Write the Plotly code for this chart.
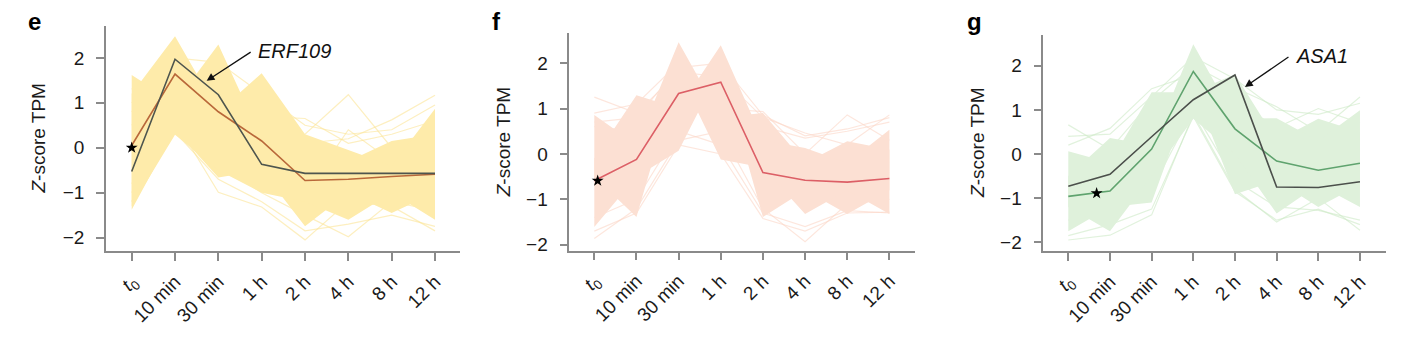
import plotly.graph_objects as go

# ---------------- data ----------------
times = ["<i>t</i><sub>0</sub>", "10 min", "30 min", "1 h", "2 h", "4 h", "8 h", "12 h"]
xi = list(range(len(times)))

# panel e (yellow cluster)
e_mean = [0.05, 1.64, 0.80, 0.15, -0.73, -0.70, -0.64, -0.59]
e_erf109 = [-0.53, 1.97, 1.18, -0.37, -0.57, -0.57, -0.57, -0.57]
e_hi_1 = [1.62, 1.00, 2.30, 0.20, 0.20, -0.30, 0.15, 0.30]
e_hi_2 = [1.20, 2.48, 0.80, 1.66, 0.30, -0.05, -0.40, 0.87]
e_lo_1 = [-1.38, 0.40, -0.66, -0.50, -1.75, -1.00, -1.45, -1.00]
e_lo_2 = [-1.30, 0.29, -0.50, -1.00, -1.20, -1.60, -1.00, -1.60]
e_out_1 = [0.80, 1.60, 1.20, 0.70, 0.65, 0.10, 0.30, 0.60]
e_out_2 = [0.50, 1.40, 0.90, 0.30, 0.30, 1.18, 0.00, 0.20]
e_out_3 = [1.00, 1.80, 1.30, 0.50, 0.10, 0.20, 0.62, 1.17]
e_out_4 = [-1.20, 0.60, -0.99, -1.32, -2.05, -1.20, -1.30, -1.85]
e_out_5 = [-0.80, 0.50, -0.40, -1.00, -1.50, -1.98, -1.20, -1.40]
e_out_6 = [-0.50, 0.80, 0.00, -0.60, -1.00, 0.40, -0.30, -0.30]
e_out_7 = [-1.00, 0.35, -0.70, -1.20, -1.85, -1.70, -1.50, -1.75]
e_out_8 = [1.30, 2.00, 1.90, 1.20, 0.50, 0.30, 0.40, 0.95]
e_star = [0.0, 0.0]

# panel f (peach cluster)
f_mean = [-0.59, -0.12, 1.33, 1.58, -0.41, -0.58, -0.62, -0.54]
f_hi_1 = [0.86, 0.20, 2.46, 0.80, 0.90, -0.20, 0.28, 0.10]
f_hi_2 = [-0.10, 1.29, 1.00, 2.39, 0.30, 0.13, -0.20, 0.53]
f_lo_1 = [-1.61, -0.50, 0.07, 1.90, -1.39, -0.80, -1.32, -0.80]
f_lo_2 = [-0.50, -1.39, 1.80, -0.12, -0.30, -1.32, -0.80, -1.32]
f_out_1 = [1.25, 0.90, 1.80, 1.70, 0.80, 0.46, 0.20, 0.86]
f_out_2 = [-1.86, -1.20, 0.30, 0.50, -1.20, -1.93, -1.10, -1.00]
f_out_3 = [0.60, 0.50, 1.50, 1.00, 0.93, 0.00, 0.86, 0.30]
f_out_4 = [-1.40, -1.00, 0.50, 0.20, -1.30, -1.60, -1.25, -1.30]
f_out_5 = [0.90, 1.10, 2.00, 1.20, 0.60, 0.35, 0.50, 0.70]
f_out_6 = [-1.70, -1.30, 0.20, 0.00, -1.42, -1.70, -1.30, -1.28]
f_out_7 = [0.70, 0.80, 1.90, 2.00, 0.85, 0.40, 0.55, 0.80]
f_star = [0.08, -0.59]

# panel g (green cluster)
g_mean = [-0.96, -0.84, 0.11, 1.87, 0.57, -0.16, -0.37, -0.21]
g_asa1 = [-0.73, -0.46, 0.39, 1.23, 1.79, -0.75, -0.76, -0.63]
g_hi_1 = [0.06, -0.20, 1.40, 1.40, 1.81, 0.30, 0.80, 0.50]
g_hi_2 = [-0.50, 0.36, 0.20, 2.49, 0.80, 0.81, 0.30, 0.99]
g_lo_1 = [-1.75, -1.20, -1.10, 1.50, -0.91, -0.60, -1.20, -0.70]
g_lo_2 = [-1.20, -1.75, -0.50, 0.80, 0.00, -1.35, -0.70, -1.20]
g_out_1 = [0.66, 0.10, 1.20, 2.00, 1.50, 1.07, 0.50, 1.29]
g_out_2 = [-1.95, -1.84, -1.38, 0.90, -0.80, -1.54, -1.00, -1.73]
g_out_3 = [0.20, 0.58, 1.48, 1.80, 1.20, 0.60, 1.03, 0.70]
g_out_4 = [-1.50, -1.30, -0.80, 1.00, -0.60, -1.20, -1.28, -1.50]
g_out_5 = [-1.85, -1.60, -1.25, 0.85, -0.85, -1.50, -1.25, -1.60]
g_out_6 = [0.40, 0.45, 1.30, 2.20, 1.70, 1.00, 0.90, 1.15]
g_star = [0.68, -0.89]

yticks = [-2, -1, 0, 1, 2]

# ---------------- styling ----------------
FONT = "Liberation Sans, Arial, Helvetica, sans-serif"
W, H = 1401, 354

panels = [
    dict(key="", letter="e", mean=e_mean, gene=e_erf109, gene_name="ERF109",
         band=[e_hi_1, e_hi_2, e_lo_1, e_lo_2],
         outs=[e_out_1, e_out_2, e_out_3, e_out_4, e_out_5, e_out_6, e_out_7, e_out_8],
         star=e_star,
         fill="#FEEBAA", out="rgba(252,228,150,0.6)", mcol="#B9683A", gcol="#4E554E",
         px=(106, 460), py=(26.7, 255), xr=(-0.593, 7.577), yr=(-2.307, 2.702),
         letter_xy=(34, 22), title_x=38.7,
         arrow=dict(head=(1.73, 1.49), tail=(2.78, 2.15), text=(2.87, 2.15))),
    dict(key="2", letter="f", mean=f_mean, gene=None, gene_name=None,
         band=[f_hi_1, f_hi_2, f_lo_1, f_lo_2],
         outs=[f_out_1, f_out_2, f_out_3, f_out_4, f_out_5, f_out_6, f_out_7],
         star=f_star,
         fill="#FCE0D3", out="rgba(251,214,198,0.6)", mcol="#DC5F66", gcol=None,
         px=(569.3, 915), py=(33.3, 254.3), xr=(-0.593, 7.607), yr=(-2.130, 2.666),
         letter_xy=(497, 21.7), title_x=503.5, arrow=None),
    dict(key="3", letter="g", mean=g_mean, gene=g_asa1, gene_name="ASA1",
         band=[g_hi_1, g_hi_2, g_lo_1, g_lo_2],
         outs=[g_out_1, g_out_2, g_out_3, g_out_4, g_out_5, g_out_6],
         star=g_star,
         fill="#DFF1DB", out="rgba(205,234,198,0.6)", mcol="#5FA36E", gcol="#4B4F4B",
         px=(1043.3, 1386), py=(35, 255), xr=(-0.600, 7.625), yr=(-2.208, 2.708),
         letter_xy=(974, 22), title_x=978,
         arrow=dict(head=(4.24, 1.52), tail=(5.32, 2.22), text=(5.42, 2.22))),
]

fig = go.Figure()
annotations = []
layout_axes = {}

for p in panels:
    xa, ya = "x" + p["key"], "y" + p["key"]
    # light individual outlier profiles
    for o in p["outs"]:
        fig.add_trace(go.Scatter(x=xi, y=o, mode="lines", xaxis=xa, yaxis=ya,
                                 line=dict(color=p["out"], width=1.2),
                                 hoverinfo="skip", showlegend=False))
    # dense band: union of regions between each profile and the mean profile
    for b in p["band"]:
        fig.add_trace(go.Scatter(x=xi + xi[::-1], y=b + p["mean"][::-1],
                                 mode="lines", fill="toself", fillcolor=p["fill"],
                                 line=dict(width=0, color=p["fill"]),
                                 xaxis=xa, yaxis=ya, hoverinfo="skip", showlegend=False))
    # mean line
    fig.add_trace(go.Scatter(x=xi, y=p["mean"], mode="lines", xaxis=xa, yaxis=ya,
                             line=dict(color=p["mcol"], width=1.6), showlegend=False))
    if p["gene"] is not None:
        fig.add_trace(go.Scatter(x=xi, y=p["gene"], mode="lines", xaxis=xa, yaxis=ya,
                                 line=dict(color=p["gcol"], width=1.6), showlegend=False))
    fig.add_trace(go.Scatter(x=[p["star"][0]], y=[p["star"][1]], mode="markers",
                             xaxis=xa, yaxis=ya,
                             marker=dict(symbol="star", size=9, color="black"),
                             showlegend=False))

    x0, x1 = p["px"]
    y0, y1 = p["py"]
    common = dict(showline=True, linecolor="#8a8a8a", linewidth=1.5,
                  ticks="outside", ticklen=8, tickwidth=1.5, tickcolor="#8a8a8a",
                  showgrid=False, zeroline=False,
                  tickfont=dict(family=FONT, size=19, color="#1a1a1a"))
    layout_axes["xaxis" + p["key"]] = dict(
        common, domain=[x0 / W, x1 / W], range=list(p["xr"]), anchor=ya,
        tickmode="array", tickvals=xi, ticktext=times, tickangle=-45,
        ticklabelstandoff=2)
    layout_axes["yaxis" + p["key"]] = dict(
        common, domain=[1 - y1 / H, 1 - y0 / H], range=list(p["yr"]), anchor=xa,
        tickmode="array", tickvals=yticks,
        ticktext=[("\u2212" + str(-v)) if v < 0 else str(v) for v in yticks],
        ticklabelstandoff=8)

    annotations.append(dict(text="<b>" + p["letter"] + "</b>", xref="paper", yref="paper",
                            x=p["letter_xy"][0] / W, y=1 - p["letter_xy"][1] / H,
                            xanchor="center", yanchor="middle", showarrow=False,
                            font=dict(family=FONT, size=24, color="black")))
    annotations.append(dict(text="<i>Z</i>-score TPM", xref="paper", yref="paper",
                            x=p["title_x"] / W, y=1 - (y0 + y1) / 2 / H, textangle=-90,
                            xanchor="center", yanchor="middle", showarrow=False,
                            font=dict(family=FONT, size=19, color="#1a1a1a")))
    if p["arrow"] is not None:
        a = p["arrow"]
        annotations.append(dict(x=a["head"][0], y=a["head"][1], ax=a["tail"][0], ay=a["tail"][1],
                                xref=xa, yref=ya, axref=xa, ayref=ya, text="",
                                showarrow=True, arrowhead=2, arrowsize=1.2, arrowwidth=1.3,
                                arrowcolor="#111111"))
        annotations.append(dict(x=a["text"][0], y=a["text"][1], xref=xa, yref=ya,
                                text="<i>" + p["gene_name"] + "</i>", showarrow=False,
                                xanchor="left", yanchor="middle",
                                font=dict(family=FONT, size=20, color="#111111")))

fig.update_layout(width=W, height=H, margin=dict(l=0, r=0, t=0, b=0),
                  paper_bgcolor="white", plot_bgcolor="white",
                  showlegend=False, annotations=annotations, **layout_axes)

fig.write_html("out.html")
